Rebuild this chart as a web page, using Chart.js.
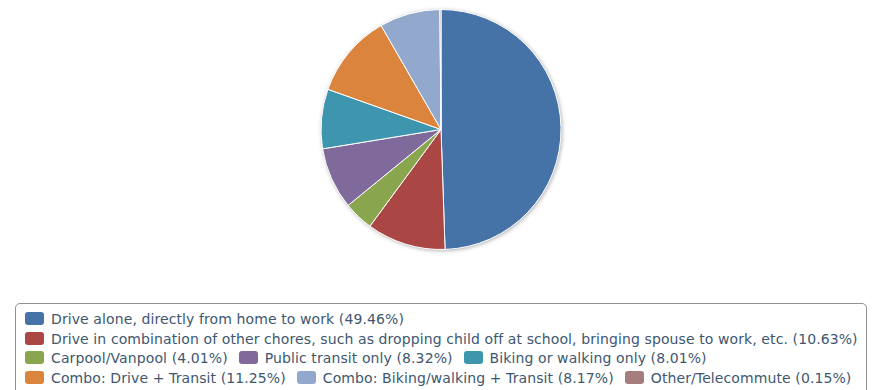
<!DOCTYPE html>
<html>
<head>
<meta charset="utf-8">
<script src="https://cdn.jsdelivr.net/npm/chart.js@4.4.1/dist/chart.umd.min.js"></script>
<style>
body{margin:0;background:#fff;width:875px;height:390px;overflow:hidden;position:relative}
#wrap{position:absolute;left:0;top:0;width:875px;height:260px}
#legend{position:absolute;left:15px;top:303px;width:852px;height:120px;border:1px solid #909090;border-radius:5px;box-sizing:border-box;padding:6px 0 0 9px;font:14px "DejaVu Sans",Verdana,sans-serif;letter-spacing:0.1px;color:#3E576F}
.row{height:19.5px;line-height:19.5px;white-space:nowrap}
.item{display:inline-block;margin-right:11px}
.sw{display:inline-block;width:19px;height:13px;border-radius:3px;vertical-align:-1px;margin-right:7px}
</style>
</head>
<body>
<div id="wrap"><canvas id="pie"></canvas></div>
<div id="legend"></div>
<script>
const categories = [
'Drive alone, directly from home to work',
'Drive in combination of other chores, such as dropping child off at school, bringing spouse to work, etc.',
'Carpool/Vanpool',
'Public transit only',
'Biking or walking only',
'Combo: Drive + Transit',
'Combo: Biking/walking + Transit',
'Other/Telecommute'
]
const shares = [49.46,10.63,4.01,8.32,8.01,11.25,8.17,0.15]
const colors = ['#4572A7','#AA4643','#89A54E','#80699B','#3D96AE','#DB843D','#92A8CD','#A47D7C']
// which legend row each item sits in
const legendRows = [[0],[1],[2,3,4],[5,6,7]]

// soft grey shadow under the whole pie
const pieShadow = {
id:'pieShadow',
beforeDatasetsDraw(chart){
const arc = chart.getDatasetMeta(0).data[0]
if(!arc) return
const c = chart.ctx
c.save()
c.shadowColor = 'rgba(0,0,0,0.35)'
c.shadowBlur = 4
c.shadowOffsetX = 1
c.shadowOffsetY = 1
c.fillStyle = '#fff'
c.beginPath()
c.arc(arc.x, arc.y, arc.outerRadius, 0, Math.PI*2)
c.fill()
c.restore()
}
}

new Chart(document.getElementById('pie'),{
type:'pie',
data:{
labels:categories,
datasets:[{
data:shares,
backgroundColor:colors,
borderColor:'#ffffff',
borderWidth:1
}]
},
options:{
responsive:true,
maintainAspectRatio:false,
animation:false,
layout:{padding:{top:9,bottom:10,left:7,right:0}},
plugins:{
legend:{display:false},
tooltip:{enabled:false}
}
},
plugins:[pieShadow]
})

const legend = document.getElementById('legend')
legendRows.forEach(row=>{
const r = document.createElement('div')
r.className = 'row'
row.forEach(i=>{
const it = document.createElement('span')
it.className = 'item'
const sw = document.createElement('span')
sw.className = 'sw'
sw.style.background = colors[i]
it.appendChild(sw)
it.appendChild(document.createTextNode(categories[i] + ' (' + shares[i].toFixed(2) + '%)'))
r.appendChild(it)
})
legend.appendChild(r)
})
</script>
</body>
</html>
